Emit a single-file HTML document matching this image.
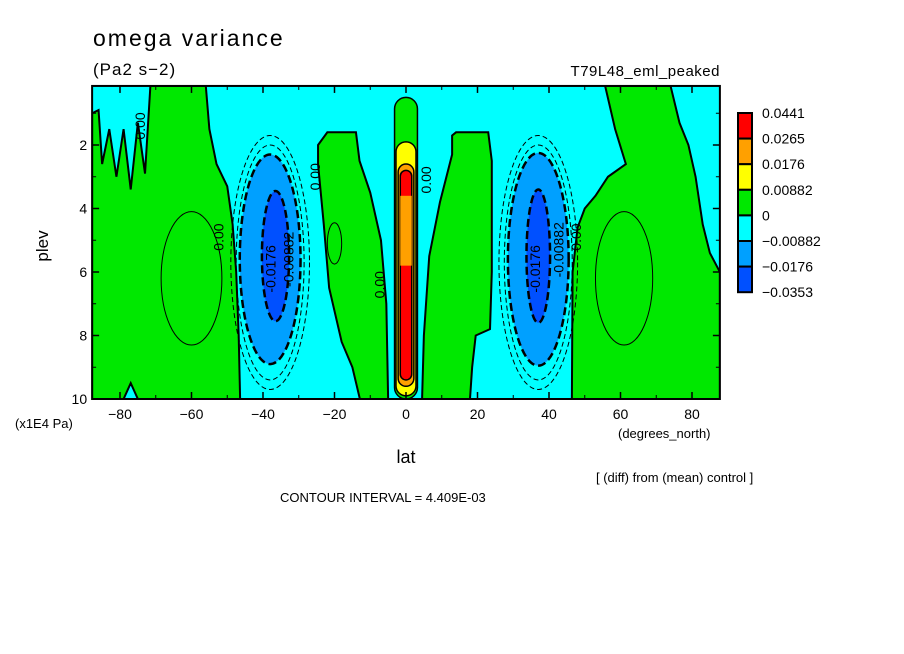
<!DOCTYPE html>
<html><head><meta charset="utf-8"><style>
html,body{margin:0;padding:0;background:#fff;}
svg{display:block;font-family:"Liberation Sans",sans-serif;}
</style></head><body>
<svg id="chart" width="904" height="654" viewBox="0 0 904 654" xmlns="http://www.w3.org/2000/svg">
<rect width="904" height="654" fill="#fff"/>
<text x="93" y="46" font-size="23" letter-spacing="2">omega variance</text>
<text x="93" y="75" font-size="17" letter-spacing="1">(Pa2 s−2)</text>
<text x="720" y="76" font-size="15" text-anchor="end" letter-spacing="0.5">T79L48_eml_peaked</text>
<g id="plot"></g>
<g id="axes"></g>
<g id="legend"></g>
<text x="48" y="246" font-size="17" text-anchor="middle" transform="rotate(-90 48 246)">plev</text>
<text x="15" y="428" font-size="13">(x1E4 Pa)</text>
<text x="406" y="463" font-size="18" text-anchor="middle">lat</text>
<text x="618" y="438" font-size="13">(degrees_north)</text>
<text x="596" y="482" font-size="13">[ (diff) from (mean) control ]</text>
<text x="280" y="502" font-size="13">CONTOUR INTERVAL = 4.409E-03</text>
</svg>
<script>
const xTicks=[-80,-60,-40,-20,0,20,40,60,80];
const yTicks=[2,4,6,8,10];
const legendLevels=["0.0441","0.0265","0.0176","0.00882","0","\u22120.00882","\u22120.0176","\u22120.0353"];
const legendColors=["#ff0000","#ffa000","#ffff00","#00e800","#00ffff","#00a0ff","#0050ff"];
// contour regions as [lat, plev] pairs
const greenLeft=[[-87.8,10],[-87.8,1.0],[-86,0.9],[-85,2.6],[-83,1.5],[-81,3.0],[-79,1.5],[-77,3.4],[-75,1.3],[-73,2.9],[-71.5,0.14],[-56,0.14],[-55,1.5],[-53,2.6],[-50,3.3],[-48.5,4.5],[-47.5,6],[-46.8,8],[-46.4,10],[-75,10],[-77,9.5],[-79,10]];
const greenMidLeft=[[-24.6,2.0],[-22,1.6],[-14,1.6],[-13,2.5],[-10,3.5],[-7,5],[-5.5,7],[-5,10],[-12.9,10],[-15,9],[-18,8.2],[-21.5,6.5],[-23,4.5],[-24.6,2.6]];
const greenMidRight=[[12.9,1.7],[14,1.6],[23,1.6],[24,2.5],[24,6],[23.5,7.8],[19.5,8],[18.5,9],[17.9,10],[4.5,10],[5,8],[6.5,5.5],[9.5,3.8],[12.9,2.3]];
const greenRight=[[55.7,0.14],[74,0.14],[76.5,1.3],[79,2],[81,3],[83,4.5],[85,5.4],[87.8,6],[87.8,10],[46.4,10],[46.6,6],[48,4.6],[50,4],[53,3.6],[56.5,3.0],[61.5,2.6],[58.5,1.5]];
const lobes=[{lat:-38,p:5.6,dlat:8.5,dp:3.3,c:"#00a0ff"},{lat:-36.5,p:5.5,dlat:3.8,dp:2.05,c:"#0050ff"},{lat:37,p:5.6,dlat:8.5,dp:3.35,c:"#00a0ff"},{lat:37,p:5.5,dlat:3.3,dp:2.1,c:"#0050ff"}];
const innerLoops=[{lat:-60,p:6.2,dlat:8.5,dp:2.1},{lat:61,p:6.2,dlat:8,dp:2.1},{lat:-20,p:5.1,dlat:2,dp:0.65}];

const X0=406,SX=3.575,YB=399,SY=31.75;
const xs=l=>X0+SX*l, ys=p=>YB-(10-p)*SY;
const NS="http://www.w3.org/2000/svg";
function mk(tag,attrs,parent){const e=document.createElementNS(NS,tag);for(const k in attrs)e.setAttribute(k,attrs[k]);parent.appendChild(e);return e;}
const plot=document.getElementById('plot'),axes=document.getElementById('axes'),leg=document.getElementById('legend');
const L=xs(-87.8),R=xs(87.8),T=ys(0.14),B=ys(10);
const clip=mk('clipPath',{id:'pc'},plot);mk('rect',{x:L,y:T,width:R-L,height:B-T},clip);
const g=mk('g',{'clip-path':'url(#pc)'},plot);
let bg=mk('rect',{x:L,y:T,width:R-L,height:B-T,fill:'#00ffff'},g);


const polys=[["green-region-south-polar",greenLeft],["green-region-south-subtropics",greenMidLeft],["green-region-north-subtropics",greenMidRight],["green-region-north-polar",greenRight]];
polys.forEach(([n,pts])=>{
  const e=mk('polygon',{points:pts.map(q=>xs(q[0])+','+ys(q[1])).join(' '),fill:'#00e800',stroke:'#000','stroke-width':2},g);
  
  
});
[-38,37].forEach(la=>{
  [[11,4.0,1],[9.5,3.7,1]].forEach(([dl,dp,w])=>{
    const e=mk('ellipse',{cx:xs(la),cy:ys(5.7),rx:dl*SX,ry:dp*SY,fill:'none',stroke:'#000','stroke-width':w,'stroke-dasharray':'5,3'},g);
    
    
  });
});
lobes.forEach(o=>{
  const e=mk('ellipse',{cx:xs(o.lat),cy:ys(o.p),rx:o.dlat*SX,ry:o.dp*SY,fill:o.c,stroke:'#000','stroke-width':2.5,'stroke-dasharray':'8,4'},g);
  
  
});
innerLoops.forEach(o=>{
  const e=mk('ellipse',{cx:xs(o.lat),cy:ys(o.p),rx:o.dlat*SX,ry:o.dp*SY,fill:'none',stroke:'#000','stroke-width':1},g);
  
  
});
const col=[{w:3.2,t:0.5,b:10,c:'#00e800'},{w:2.8,t:1.9,b:9.9,c:'#ffff00'},{w:2.2,t:2.6,b:9.6,c:'#ffa000'},{w:1.6,t:2.8,b:9.4,c:'#ff0000'}];
col.forEach(o=>{
  const e=mk('rect',{x:xs(-o.w),y:ys(o.t),width:2*o.w*SX,height:ys(o.b)-ys(o.t),rx:o.w*SX,fill:o.c,stroke:'#000','stroke-width':1.5},g);
  
  
});
const ora=mk('rect',{x:xs(-1.6),y:ys(3.6),width:3.2*SX,height:ys(5.8)-ys(3.6),fill:'#ffa000'},g);


const labels=[["0.00",-73,1.4],["0.00",-51,4.9],["-0.0176",-36.5,5.9],["-0.00882",-31.5,5.6],["0.00",-24,3.0],["0.00",-6,6.4],["0.00",7,3.1],["-0.0176",37.5,5.9],["-0.00882",44,5.3],["0.00",49,4.9]];
labels.forEach(([t,la,p])=>{
  const e=mk('text',{x:xs(la),y:ys(p),'font-size':14,'text-anchor':'middle',transform:`rotate(-90 ${xs(la)} ${ys(p)})`},g);
  e.textContent=t;
  
  
});
const fr=mk('rect',{x:L,y:T,width:R-L,height:B-T,fill:'none',stroke:'#000','stroke-width':2},axes);


for(let v=-80;v<=80;v+=10){
  mk('line',{x1:xs(v),x2:xs(v),y1:B,y2:B-4,stroke:'#000','stroke-width':1},axes);
  mk('line',{x1:xs(v),x2:xs(v),y1:T,y2:T+4,stroke:'#000','stroke-width':1},axes);
}
for(let v=1;v<=9;v+=1){
  mk('line',{x1:L,x2:L+4,y1:ys(v),y2:ys(v),stroke:'#000','stroke-width':1},axes);
  mk('line',{x1:R,x2:R-4,y1:ys(v),y2:ys(v),stroke:'#000','stroke-width':1},axes);
}
xTicks.forEach(v=>{
  mk('line',{x1:xs(v),x2:xs(v),y1:B,y2:B-7,stroke:'#000','stroke-width':1.5},axes);
  mk('line',{x1:xs(v),x2:xs(v),y1:T,y2:T+7,stroke:'#000','stroke-width':1.5},axes);
  const t=mk('text',{x:xs(v),y:B+20,'font-size':14,'text-anchor':'middle'},axes);
  t.textContent=v<0?'\u2212'+(-v):String(v);
  
  
});
yTicks.forEach(v=>{
  mk('line',{x1:L,x2:L+7,y1:ys(v),y2:ys(v),stroke:'#000','stroke-width':1.5},axes);
  mk('line',{x1:R,x2:R-7,y1:ys(v),y2:ys(v),stroke:'#000','stroke-width':1.5},axes);
  const t=mk('text',{x:L-5,y:ys(v)+5,'font-size':14,'text-anchor':'end'},axes);
  t.textContent=String(v);
  
  
});
const bh=25.6,bx=738,by=113;
legendColors.forEach((c,i)=>{
  const r=mk('rect',{x:bx,y:by+i*bh,width:14,height:bh,fill:c,stroke:'#000','stroke-width':2},leg);
  
  
});
legendLevels.forEach((s,i)=>{
  const t=mk('text',{x:762,y:by+i*bh+5,'font-size':14},leg);
  t.textContent=s;
  
  
});
</script>
</body></html>
